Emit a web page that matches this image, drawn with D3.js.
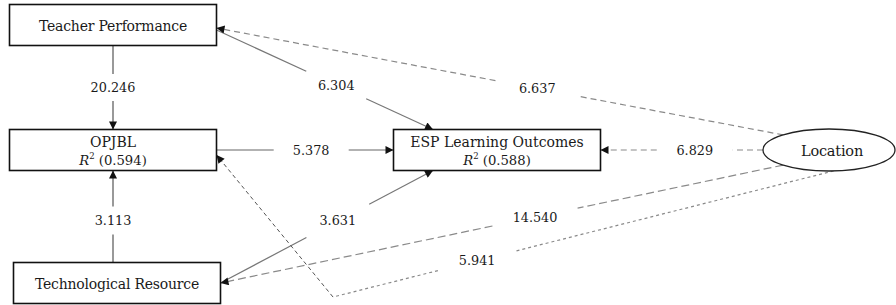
<!DOCTYPE html>
<html>
<head>
<meta charset="utf-8">
<script src="https://cdn.jsdelivr.net/npm/d3@7"></script>
<style>
	body { margin: 0; background: #fff; }
	svg { display: block; }
	text { font-family: "DejaVu Serif", serif; fill: #1a1a1a; }
</style>
</head>
<body>
<div class="chart__path"></div>
<script>
(function() {

	// DATA
	var nodeIds = ['TP', 'OPJBL', 'TR', 'ESP', 'LOC'];
	var nodeNames = ['Teacher Performance', 'OPJBL', 'Technological Resource', 'ESP Learning Outcomes', 'Location'];
	var nodeR2 = [null, 0.594, null, 0.588, null];

	var pathFrom = ['TP', 'TR', 'OPJBL', 'TP', 'TR', 'LOC', 'LOC', 'LOC', 'LOC'];
	var pathTo = ['OPJBL', 'OPJBL', 'ESP', 'ESP', 'ESP', 'TP', 'ESP', 'TR', 'OPJBL'];
	var pathValues = [20.246, 3.113, 5.378, 6.304, 3.631, 6.637, 6.829, 14.540, 5.941];

	// LAYOUT (positions / sizes, not data)
	var W = 896, H = 305;
	var boxW = 207, boxH = 41;
	var col = d3.scaleOrdinal().domain(['left', 'mid', 'right']).range([113, 497, 829]);
	var row = d3.scaleOrdinal().domain(['top', 'mid', 'bottom']).range([25, 150, 283]);
	var place = {
		TP: { c: 'left', r: 'top', shape: 'rect' },
		OPJBL: { c: 'left', r: 'mid', shape: 'rect' },
		TR: { c: 'left', r: 'bottom', shape: 'rect', dx: 4 },
		ESP: { c: 'mid', r: 'mid', shape: 'rect' },
		LOC: { c: 'right', r: 'mid', shape: 'ellipse', rx: 66, ry: 21 }
	};

	// anchors: [side or angle, offset], label fraction t, gap length, style
	var edgeLayout = [
		{ a: ['bottom', 0], b: ['top', 0], t: 0.5, gap: 27, style: 'solidDark' },
		{ a: ['top', -4], b: ['bottom', 0], t: 0.456, gap: 28, style: 'solidDark' },
		{ a: ['right', 0], b: ['left', 0], t: 0.535, gap: 75, style: 'solidLight' },
		{ a: ['right', 5], b: ['top', -64], t: 0.553, gap: 66, style: 'solid' },
		{ a: ['right', 0], b: ['bottom', -64], t: 0.552, gap: 71, style: 'solid' },
		{ a: [-134], b: ['right', 3], t: 0.434, gap: 85, style: 'dashed' },
		{ a: [180], b: ['right', 0], t: 0.42, gap: 76, style: 'dashed' },
		{ a: [134], b: ['right', 0], t: 0.441, gap: 87, style: 'dashedLong' },
		{ a: [86], b: ['right', 5], via: [333, 297], t: 0.712, gap: 81, style: 'dotted', style2: 'dottedDark' }
	];

	var styles = {
		solidDark: { stroke: '#555', dash: null, w: 1.2 },
		solid: { stroke: '#777', dash: null, w: 1.2 },
		solidLight: { stroke: '#999', dash: null, w: 1.3 },
		dashed: { stroke: '#8a8a8a', dash: '6,4', w: 1.2 },
		dashedLong: { stroke: '#8a8a8a', dash: '8,4', w: 1.2 },
		dotted: { stroke: '#8a8a8a', dash: '3,3', w: 1.2 },
		dottedDark: { stroke: '#555', dash: '4,3', w: 1 }
	};

	// HELPERS
	function center(id) {
		var p = place[id];
		return [col(p.c) + (p.dx || 0), row(p.r)];
	}

	function anchor(id, spec) {
		var p = place[id], c = center(id);
		if (p.shape === 'ellipse') {
			var th = spec[0] * Math.PI / 180;
			return [c[0] + p.rx * Math.cos(th), c[1] + p.ry * Math.sin(th)];
		}
		var side = spec[0], off = spec[1] || 0;
		if (side === 'top') return [c[0] + off, c[1] - boxH / 2];
		if (side === 'bottom') return [c[0] + off, c[1] + boxH / 2];
		if (side === 'left') return [c[0] - boxW / 2, c[1] + off];
		return [c[0] + boxW / 2, c[1] + off];
	}

	function lerp(a, b, t) {
		return [a[0] + (b[0] - a[0]) * t, a[1] + (b[1] - a[1]) * t];
	}

	function applyStyle(sel, s) {
		sel.attr('stroke', s.stroke)
			.attr('stroke-width', s.w)
			.attr('fill', 'none');
		if (s.dash) sel.attr('stroke-dasharray', s.dash);
	}

	// SETUP
	var svg = d3.select('.chart__path').append('svg')
		.attr('width', W)
		.attr('height', H);

	svg.append('defs').append('marker')
		.attr('id', 'arrow')
		.attr('viewBox', '0 0 10 10')
		.attr('refX', 10)
		.attr('refY', 5)
		.attr('markerWidth', 10)
		.attr('markerHeight', 8)
		.attr('markerUnits', 'userSpaceOnUse')
		.attr('orient', 'auto')
		.append('path')
		.attr('d', 'M0,0L10,5L0,10Z')
		.attr('fill', '#111');

	var edges = pathValues.map(function(v, i) {
		var L = edgeLayout[i];
		var p0 = anchor(pathFrom[i], L.a);
		var p1 = anchor(pathTo[i], L.b);
		return { value: v, p0: p0, p1: p1, L: L };
	});

	var gEdges = svg.append('g').attr('class', 'edges');

	edges.forEach(function(e) {
		var L = e.L;
		var end1 = L.via ? L.via : e.p1;
		var len = Math.hypot(end1[0] - e.p0[0], end1[1] - e.p0[1]);
		var h = L.gap / 2 / len;
		var a = lerp(e.p0, end1, L.t - h);
		var b = lerp(e.p0, end1, L.t + h);
		var mid = lerp(e.p0, end1, L.t);

		gEdges.append('path')
			.attr('d', d3.line()([e.p0, a]))
			.call(applyStyle, styles[L.style]);

		var tail = gEdges.append('path')
			.attr('d', d3.line()(L.via ? [b, L.via] : [b, e.p1]))
			.call(applyStyle, styles[L.style]);

		if (L.via) {
			tail = gEdges.append('path')
				.attr('d', d3.line()([L.via, e.p1]))
				.call(applyStyle, styles[L.style2]);
		}
		tail.attr('marker-end', 'url(#arrow)');

		gEdges.append('text')
			.attr('x', mid[0])
			.attr('y', mid[1])
			.attr('text-anchor', 'middle')
			.attr('dominant-baseline', 'central')
			.attr('font-size', 12.8)
			.text(d3.format('.3f')(e.value));
	});

	// NODES
	var gNodes = svg.append('g').attr('class', 'nodes');

	nodeIds.forEach(function(id, i) {
		var p = place[id], c = center(id);
		var g = gNodes.append('g');
		if (p.shape === 'ellipse') {
			g.append('ellipse')
				.attr('cx', c[0]).attr('cy', c[1])
				.attr('rx', p.rx).attr('ry', p.ry)
				.attr('fill', '#fff')
				.attr('stroke', '#222')
				.attr('stroke-width', 1.3);
		} else {
			g.append('rect')
				.attr('x', c[0] - boxW / 2).attr('y', c[1] - boxH / 2)
				.attr('width', boxW).attr('height', boxH)
				.attr('fill', '#fff')
				.attr('stroke', '#111')
				.attr('stroke-width', 1.6);
		}

		var hasR2 = nodeR2[i] != null;
		var cx = c[0] + (p.shape === 'ellipse' ? 3 : 0);
		g.append('text')
			.attr('x', cx)
			.attr('y', hasR2 ? c[1] - 8 : c[1] + 1)
			.attr('text-anchor', 'middle')
			.attr('dominant-baseline', 'central')
			.attr('font-size', p.shape === 'ellipse' ? 14.5 : 14)
			.attr('letter-spacing', hasR2 ? 0 : -0.2)
			.text(nodeNames[i]);

		if (hasR2) {
			var t = g.append('text')
				.attr('x', cx)
				.attr('y', c[1] + 10)
				.attr('text-anchor', 'middle')
				.attr('dominant-baseline', 'central')
				.attr('font-size', 13.2);
			t.append('tspan').attr('font-style', 'italic').text('R');
			t.append('tspan').attr('font-size', 8.5).attr('dy', -4).text('2');
			t.append('tspan').attr('dy', 4).text(' (' + d3.format('.3f')(nodeR2[i]) + ')');
		}
	});

})()
</script>
</body>
</html>
